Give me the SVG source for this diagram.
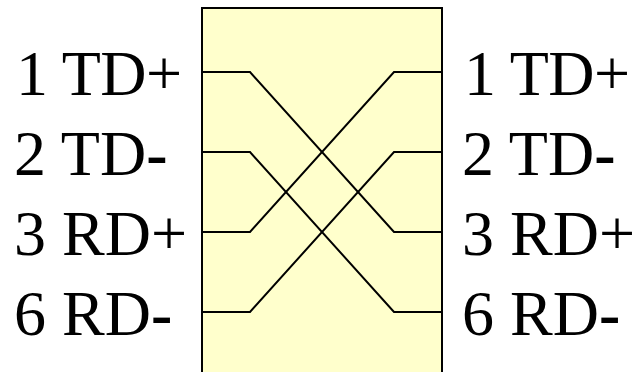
<svg xmlns="http://www.w3.org/2000/svg" width="634" height="372" viewBox="0 0 634 372">
<style>
text{font-family:"Liberation Serif","Times New Roman",serif;font-size:64px;fill:#000}
.b{font-weight:bold}
.w{fill:none;stroke:#000;stroke-width:2}
</style>
<g id="box"><rect x="202" y="8" width="240" height="368" fill="#ffffcc" stroke="#000" stroke-width="2"/></g>
<g id="connectors">
<path class="w" d="M202 72H250L394 232H442"/>
<path class="w" d="M202 152H250L394 312H442"/>
<path class="w" d="M202 232H250L394 72H442"/>
<path class="w" d="M202 312H250L394 152H442"/>
</g>
<g id="left-labels">
<text x="16" y="95" textLength="166" lengthAdjust="spacing">1 TD+</text>
<text x="14" y="175">2 TD<tspan class="b">-</tspan></text>
<text x="14" y="255">3 RD+</text>
<text x="14" y="335">6 RD<tspan class="b">-</tspan></text>
</g>
<g id="right-labels">
<text x="464" y="95" textLength="166" lengthAdjust="spacing">1 TD+</text>
<text x="462" y="175">2 TD<tspan class="b">-</tspan></text>
<text x="462" y="255">3 RD+</text>
<text x="462" y="335">6 RD<tspan class="b">-</tspan></text>
</g>
</svg>
